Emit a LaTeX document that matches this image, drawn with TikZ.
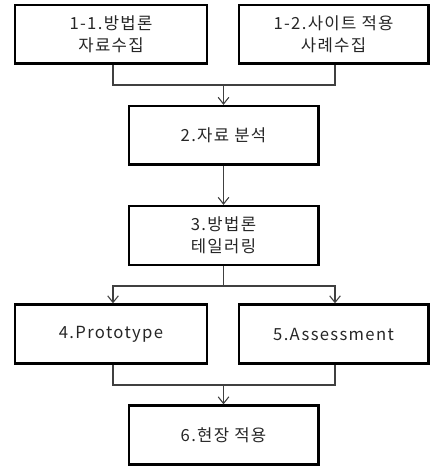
\documentclass[tikz,border=0pt]{standalone}
\usepackage{fontspec}
\setmainfont[LetterSpace=8]{Noto Sans CJK KR}
\usetikzlibrary{arrows.meta}
\begin{document}
\begin{tikzpicture}[x=0.75pt,y=-0.75pt,
  box/.style={draw=black,line width=2pt,minimum width=144pt,minimum height=44pt,inner sep=0pt,align=center,font=\fontsize{12.5pt}{16.5pt}\selectfont,text=black!85},
  box2/.style={box,minimum width=142pt},
  conn/.style={draw=black!75,line width=0.8pt},
  arr/.style={conn,-{Straight Barb[length=5pt,width=8pt]}}]
\useasboundingbox (0,0) rectangle (432,466);
\node[box] (a) at (111,34.5) {1-1.방법론\\자료수집};
\node[box2] (b) at (333.5,34.5) {1-2.사이트 적용\\사례수집};
\node[box2] (c) at (223.5,135.5) {2.자료 분석};
\node[box2] (d) at (223.5,235.5) {3.방법론\\테일러링};
\node[box] (e) at (111,334) {4.Prototype};
\node[box2] (f) at (333.5,334) {5.Assessment};
\node[box2] (g) at (223.5,435) {6.현장 적용};
\coordinate (j1) at (223.5,85);
\coordinate (j2) at (223.5,286);
\coordinate (j3) at (223.5,385);
\draw[conn] (a.south -| 113,0) |- (j1) -| (b.south -| 335,0);
\draw[arr] (j1) -- (c.north);
\draw[arr] (c.south) -- (d.north);
\draw[conn] (d.south) -- (j2);
\draw[arr] (j2) -| (e.north -| 113,0);
\draw[arr] (j2) -| (f.north -| 335,0);
\draw[conn] (e.south -| 113,0) |- (j3) -| (f.south -| 335,0);
\draw[arr] (j3) -- (g.north);
\end{tikzpicture}
\end{document}
